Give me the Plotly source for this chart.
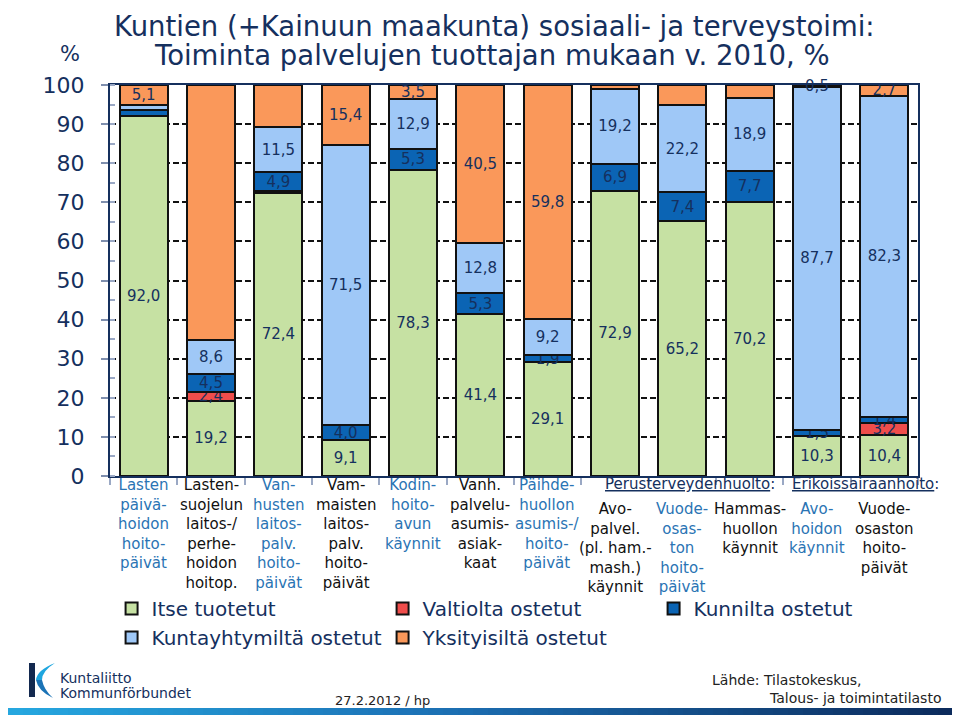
import plotly.graph_objects as go

# ---------------- data ----------------
categories = [
    "Lasten<br>päivä-<br>hoidon<br>hoito-<br>päivät",
    "Lasten-<br>suojelun<br>laitos-/<br>perhe-<br>hoidon<br>hoitop.",
    "Van-<br>husten<br>laitos-<br>palv.<br>hoito-<br>päivät",
    "Vam-<br>maisten<br>laitos-<br>palv.<br>hoito-<br>päivät",
    "Kodin-<br>hoito-<br>avun<br>käynnit",
    "Vanh.<br>palvelu-<br>asumis-<br>asiak-<br>kaat",
    "Päihde-<br>huollon<br>asumis-/<br>hoito-<br>päivät",
    "Avo-<br>palvel.<br>(pl. ham.-<br>mash.)<br>käynnit",
    "Vuode-<br>osas-<br>ton<br>hoito-<br>päivät",
    "Hammas-<br>huollon<br>käynnit",
    "Avo-<br>hoidon<br>käynnit",
    "Vuode-<br>osaston<br>hoito-<br>päivät",
]

series_names = ["Itse tuotetut", "Valtiolta ostetut", "Kunnilta ostetut",
                "Kuntayhtymiltä ostetut", "Yksityisiltä ostetut"]

itse_tuotetut = [92.0, 19.2, 72.4, 9.1, 78.3, 41.4, 29.1, 72.9, 65.2, 70.2, 10.3, 10.4]
valtiolta = [0.0, 2.4, 0.4, 0.0, 0.0, 0.0, 0.0, 0.0, 0.0, 0.0, 0.0, 3.2]
kunnilta = [1.6, 4.5, 4.9, 4.0, 5.3, 5.3, 1.9, 6.9, 7.4, 7.7, 1.5, 1.4]
kuntayhtymilta = [1.3, 8.6, 11.5, 71.5, 12.9, 12.8, 9.2, 19.2, 22.2, 18.9, 87.7, 82.3]
yksityisilta = [5.1, 65.4, 10.8, 15.4, 3.5, 40.5, 59.8, 1.0, 5.2, 3.2, 0.5, 2.7]

series_values = [itse_tuotetut, valtiolta, kunnilta, kuntayhtymilta, yksityisilta]

# labels that the reference leaves unprinted: (series index, category index)
hidden_labels = {(2, 0), (3, 0), (1, 2)}

y_ticks = [0, 10, 20, 30, 40, 50, 60, 70, 80, 90, 100]

group_headers = ["Perusterveydenhuolto:", "Erikoissairaanhoito:"]

# ---------------- styles ----------------
colors = ["#c6e1a3", "#ef4d4b", "#0b64b4", "#9fc8f7", "#fa985a"]
navy = "#15305e"
label_blue = "#2a74b4"
FONT = "DejaVu Sans"

W, H = 960, 715
PL, PR, PT, PB = 102, 910, 77, 468
PW, PH = PR - PL, PB - PT


def px(x):
    return (x - PL) / PW


def py(y):
    return (PB - y) / PH


def fmt(v):
    return f"{v:.1f}".replace(".", ",")


fig = go.Figure()
for si, (name, vals) in enumerate(zip(series_names, series_values)):
    texts = [
        "" if (v == 0 or (si, ci) in hidden_labels) else fmt(v)
        for ci, v in enumerate(vals)
    ]
    fig.add_trace(go.Bar(
        name=name,
        x=categories,
        y=vals,
        text=texts,
        textposition="inside",
        insidetextanchor="middle",
        textangle=0,
        cliponaxis=False,
        textfont=dict(family=FONT, size=15, color=navy),
        marker=dict(color=colors[si], line=dict(color="#111111", width=2)),
        hoverinfo="skip",
    ))

fig.update_layout(
    width=W, height=H,
    barmode="stack",
    bargap=0.29,
    paper_bgcolor="white",
    plot_bgcolor="white",
    margin=dict(l=PL, r=W - PR, t=PT, b=H - PB, autoexpand=False),
    uniformtext=dict(mode="show", minsize=15),
    font=dict(family=FONT, color=navy),
    showlegend=True,
    legend=dict(
        orientation="h",
        x=-0.003, xanchor="left",
        y=py(581), yanchor="top",
        entrywidth=222, entrywidthmode="pixels",
        indentation=4,
        itemwidth=30,
        font=dict(family=FONT, size=20, color=navy),
        traceorder="normal",
        bgcolor="rgba(0,0,0,0)",
    ),
)

fig.update_yaxes(
    range=[0, 100],
    tickmode="array", tickvals=y_ticks, ticktext=[str(t) for t in y_ticks],
    ticks="outside", ticklen=7, tickwidth=1.5, tickcolor="#7f8fae",
    ticklabelstandoff=12,
    tickfont=dict(family=FONT, size=22, color=navy),
    showline=True, linecolor=navy, linewidth=2, mirror=True,
    showgrid=True, gridcolor="#111111", gridwidth=2, griddash="6px,3px",
    zeroline=False,
    minor=dict(dtick=5, ticks="inside", ticklen=5, tickcolor="#9aa8c4", showgrid=False),
)
fig.update_xaxes(
    showticklabels=False,
    ticks="outside", tickson="boundaries", ticklen=7, tickcolor="#9aa8c4", tickwidth=1.5,
    showline=True, linecolor=navy, linewidth=2, mirror=True,
    showgrid=False, zeroline=False,
)

ann = []
# title
ann.append(dict(text="Kuntien (+Kainuun maakunta) sosiaali- ja terveystoimi:",
                x=px(486), y=py(18), xref="paper", yref="paper", xanchor="center", yanchor="middle",
                showarrow=False, font=dict(family=FONT, size=27.5, color=navy)))
ann.append(dict(text="Toiminta palvelujen tuottajan mukaan v. 2010, %",
                x=px(484), y=py(47), xref="paper", yref="paper", xanchor="center", yanchor="middle",
                showarrow=False, font=dict(family=FONT, size=27.5, color=navy)))
ann.append(dict(text="%", x=px(62), y=py(46), xref="paper", yref="paper",
                xanchor="center", yanchor="middle", showarrow=False,
                font=dict(family=FONT, size=21, color=navy)))

# category labels
for ci, cat in enumerate(categories):
    top = 466 if ci < 7 else 490
    ann.append(dict(text=cat, x=cat, y=py(top), xref="x", yref="paper",
                    xanchor="center", yanchor="top", showarrow=False, align="center",
                    font=dict(family=FONT, size=15,
                              color=label_blue if ci % 2 == 0 else "#111111")))

# group headers
ann.append(dict(text="<u>" + group_headers[0][:-1] + "</u>:", x=px(682), y=py(476),
                xref="paper", yref="paper", xanchor="center", yanchor="middle",
                showarrow=False, font=dict(family=FONT, size=15, color=navy)))
ann.append(dict(text="<u>" + group_headers[1][:-1] + "</u>:", x=px(857), y=py(476),
                xref="paper", yref="paper", xanchor="center", yanchor="middle",
                showarrow=False, font=dict(family=FONT, size=15, color=navy)))

# footer texts
foot = "#222222"
ann.append(dict(text="27.2.2012 / hp", x=px(374), y=py(692), xref="paper", yref="paper",
                xanchor="center", yanchor="middle", showarrow=False,
                font=dict(family=FONT, size=13, color=foot)))
ann.append(dict(text="Lähde: Tilastokeskus,", x=px(702), y=py(672), xref="paper", yref="paper",
                xanchor="left", yanchor="middle", showarrow=False,
                font=dict(family=FONT, size=14, color=foot)))
ann.append(dict(text="Talous- ja toimintatilasto", x=px(759), y=py(690), xref="paper", yref="paper",
                xanchor="left", yanchor="middle", showarrow=False,
                font=dict(family=FONT, size=14, color=foot)))
ann.append(dict(text="Kuntaliitto", x=px(50), y=py(670), xref="paper", yref="paper",
                xanchor="left", yanchor="middle", showarrow=False,
                font=dict(family=FONT, size=14, color=navy)))
ann.append(dict(text="Kommunförbundet", x=px(50), y=py(685), xref="paper", yref="paper",
                xanchor="left", yanchor="middle", showarrow=False,
                font=dict(family=FONT, size=14, color=navy)))
fig.update_layout(annotations=ann)

# decorative shapes: bottom gradient band and logo
shapes = []


def lerp(c1, c2, t):
    return tuple(int(round(a + (b - a) * t)) for a, b in zip(c1, c2))


stops = [(0.0, (38, 168, 224)), (0.45, (28, 112, 180)), (1.0, (11, 40, 88))]
n = 64
for i in range(n):
    t = (i + 0.5) / n
    for (t0, c0), (t1, c1) in zip(stops[:-1], stops[1:]):
        if t0 <= t <= t1:
            c = lerp(c0, c1, (t - t0) / (t1 - t0))
            break
    x0 = W * i / n
    x1 = W * (i + 1) / n + 0.8
    shapes.append(dict(type="rect", xref="paper", yref="paper",
                       x0=px(x0), x1=px(x1), y0=py(715), y1=py(700),
                       fillcolor=f"rgb{c}", line=dict(width=0), layer="above"))

shapes.append(dict(type="rect", xref="paper", yref="paper",
                   x0=px(21), x1=px(27), y0=py(689), y1=py(655),
                   fillcolor="#13294f", line=dict(width=0)))


def pth(points_cmds):
    out = []
    for cmd in points_cmds:
        if isinstance(cmd, str):
            out.append(cmd)
        else:
            out.append(f"{px(cmd[0]):.5f},{py(cmd[1]):.5f}")
    return " ".join(out)


upper = pth(["M", (47, 655), "Q", (29, 662), (28, 672), "L", (34, 672), "Q", (34, 663), (47, 655), "Z"])
lower = pth(["M", (28, 672), "Q", (30, 683), (45, 690), "Q", (36, 682), (34, 672), "Z"])
shapes.append(dict(type="path", xref="paper", yref="paper", path=upper,
                   fillcolor="#1ea6df", line=dict(width=0)))
shapes.append(dict(type="path", xref="paper", yref="paper", path=lower,
                   fillcolor="#1b73b6", line=dict(width=0)))
fig.update_layout(shapes=shapes)

fig.write_html("out.html")
